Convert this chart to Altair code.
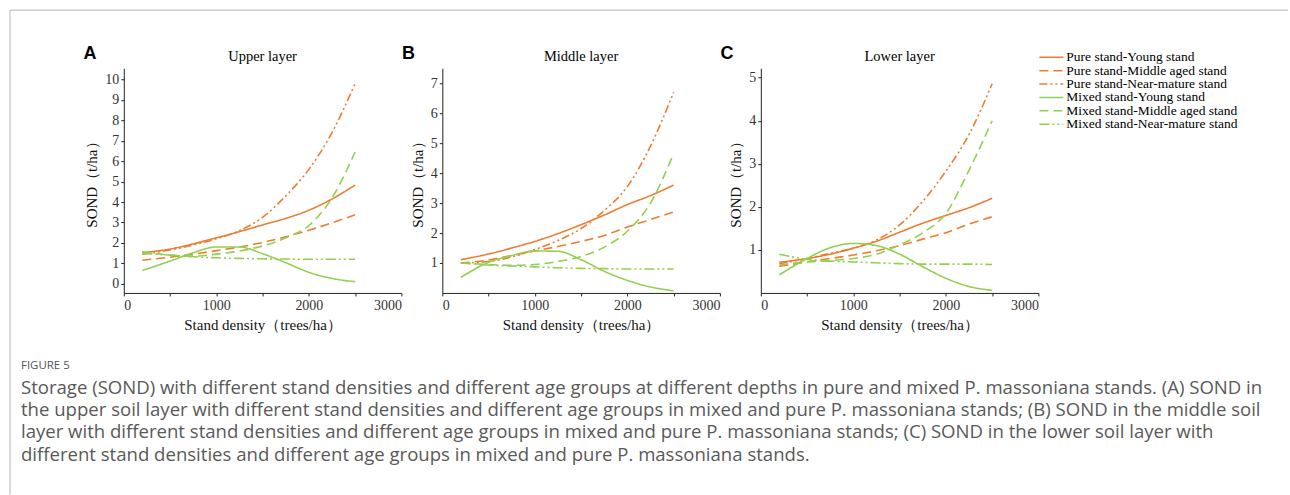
import altair as alt
import pandas as pd

# ---------------- data ----------------
density = [200, 500, 750, 1000, 1250, 1500, 1750, 2000, 2250, 2500]
series = [
    "Pure stand-Young stand",
    "Pure stand-Middle aged stand",
    "Pure stand-Near-mature stand",
    "Mixed stand-Young stand",
    "Mixed stand-Middle aged stand",
    "Mixed stand-Near-mature stand",
]

upper_pure_young = [1.52, 1.7, 1.95, 2.25, 2.55, 2.88, 3.2, 3.6, 4.15, 4.83]
upper_pure_middle = [1.15, 1.3, 1.45, 1.62, 1.8, 2.02, 2.3, 2.62, 2.98, 3.38]
upper_pure_near = [1.45, 1.65, 1.9, 2.2, 2.6, 3.25, 4.3, 5.6, 7.4, 9.8]
upper_mixed_young = [0.65, 1.11, 1.52, 1.8, 1.8, 1.47, 1.03, 0.56, 0.26, 0.1]
upper_mixed_middle = [1.57, 1.4, 1.35, 1.45, 1.6, 1.85, 2.25, 2.85, 4.2, 6.45]
upper_mixed_near = [1.5, 1.4, 1.32, 1.27, 1.24, 1.22, 1.21, 1.2, 1.2, 1.2]

middle_pure_young = [1.11, 1.3, 1.5, 1.72, 1.98, 2.28, 2.6, 2.95, 3.25, 3.6]
middle_pure_middle = [1.0, 1.1, 1.25, 1.4, 1.55, 1.72, 1.92, 2.2, 2.45, 2.7]
middle_pure_near = [1.0, 1.05, 1.2, 1.45, 1.75, 2.15, 2.75, 3.55, 4.9, 6.7]
middle_mixed_young = [0.52, 1.02, 1.25, 1.4, 1.39, 1.11, 0.72, 0.42, 0.2, 0.07]
middle_mixed_middle = [1.0, 0.95, 0.92, 0.95, 1.05, 1.22, 1.53, 2.06, 3.0, 4.65]
middle_mixed_near = [1.0, 0.93, 0.9, 0.87, 0.84, 0.82, 0.81, 0.8, 0.8, 0.8]

lower_pure_young = [0.71, 0.8, 0.9, 1.04, 1.2, 1.41, 1.62, 1.8, 1.98, 2.2]
lower_pure_middle = [0.62, 0.72, 0.8, 0.88, 0.98, 1.1, 1.25, 1.4, 1.6, 1.77]
lower_pure_near = [0.68, 0.8, 0.92, 1.04, 1.23, 1.58, 2.13, 2.83, 3.68, 4.86]
lower_mixed_young = [0.42, 0.8, 1.05, 1.15, 1.1, 0.9, 0.61, 0.34, 0.15, 0.06]
lower_mixed_middle = [0.65, 0.72, 0.75, 0.8, 0.9, 1.12, 1.4, 1.85, 2.85, 4.0]
lower_mixed_near = [0.9, 0.78, 0.74, 0.72, 0.7, 0.68, 0.67, 0.67, 0.67, 0.66]

letters = ["A", "B", "C"]
layer_titles = ["Upper layer", "Middle layer", "Lower layer"]
x_ticks = [0, 500, 1000, 1500, 2000, 2500, 3000]
y_ticks_upper = [0, 1, 2, 3, 4, 5, 6, 7, 8, 9, 10]
y_ticks_middle = [1, 2, 3, 4, 5, 6, 7]
y_ticks_lower = [1, 2, 3, 4, 5]

caption_lines = [
    "FIGURE 5",
    "Storage (SOND) with different stand densities and different age groups at different depths in pure and mixed P. massoniana stands. (A) SOND in",
    "the upper soil layer with different stand densities and different age groups in mixed and pure P. massoniana stands; (B) SOND in the middle soil",
    "layer with different stand densities and different age groups in mixed and pure P. massoniana stands; (C) SOND in the lower soil layer with",
    "different stand densities and different age groups in mixed and pure P. massoniana stands.",
]

# ---------------- styles ----------------
ORANGE = "#ED7D31"
GREEN = "#92D050"
colors = [ORANGE, ORANGE, ORANGE, GREEN, GREEN, GREEN]
dashes = [[1, 0], [9, 5], [8, 3, 2, 3, 2, 3], [1, 0], [9, 5], [10, 3, 2, 3, 2, 3]]
color_scale = alt.Scale(domain=series, range=colors)
dash_scale = alt.Scale(domain=series, range=dashes)

SERIF = "Liberation Serif"
W = 278
H = 225


def make_df(values):
    rows = []
    for s, vals in zip(series, values):
        for x, v in zip(density, vals):
            rows.append({"density": x, "SOND": v, "series": s})
    return pd.DataFrame(rows)


def panel(values, letter, title, ydomain, yticks):
    df = make_df(values)
    lines = alt.Chart(df).mark_line(strokeWidth=1.6, interpolate="monotone").encode(
        x=alt.X(
            "density:Q",
            scale=alt.Scale(domain=[0, 3000], nice=False),
            axis=alt.Axis(
                values=x_ticks,
                format="d",
                labelExpr="datum.value % 1000 == 0 ? datum.label : ''",
                title="Stand density（trees/ha）",
                titlePadding=5,
                labelPadding=3,
            ),
        ),
        y=alt.Y(
            "SOND:Q",
            scale=alt.Scale(domain=ydomain, nice=False, zero=False),
            axis=alt.Axis(
                values=yticks,
                format="d",
                title="SOND（t/ha）",
                titlePadding=5,
                labelPadding=2,
            ),
        ),
        color=alt.Color("series:N", scale=color_scale, legend=None),
        strokeDash=alt.StrokeDash("series:N", scale=dash_scale, legend=None),
    )
    head_df = pd.DataFrame({"letter": [letter], "title": [title]})
    letter_txt = alt.Chart(head_df).mark_text(
        font="Liberation Sans", fontWeight="bold", fontSize=18, color="black",
        align="center", baseline="middle",
    ).encode(text="letter:N", x=alt.value(-34), y=alt.value(-14))
    title_txt = alt.Chart(head_df).mark_text(
        font=SERIF, fontSize=14.5, color="black", align="center", baseline="alphabetic",
    ).encode(text="title:N", x=alt.value(W / 2), y=alt.value(-7))
    return alt.layer(lines, letter_txt, title_txt).properties(width=W, height=H)


pA = panel(
    [upper_pure_young, upper_pure_middle, upper_pure_near,
     upper_mixed_young, upper_mixed_middle, upper_mixed_near],
    letters[0], layer_titles[0], [-0.45, 10.55], y_ticks_upper,
)
pB = panel(
    [middle_pure_young, middle_pure_middle, middle_pure_near,
     middle_mixed_young, middle_mixed_middle, middle_mixed_near],
    letters[1], layer_titles[1], [0, 7.5], y_ticks_middle,
)
pC = panel(
    [lower_pure_young, lower_pure_middle, lower_pure_near,
     lower_mixed_young, lower_mixed_middle, lower_mixed_near],
    letters[2], layer_titles[2], [0, 5.22], y_ticks_lower,
)

# ---------------- legend ----------------
leg_df = pd.DataFrame({"series": series})
leg_y = alt.Y("series:N", sort=series, axis=None,
              scale=alt.Scale(type="point", range=[-11, 56], padding=0))
leg_rules = alt.Chart(leg_df).mark_rule(strokeWidth=1.6).encode(
    x=alt.value(-40), x2=alt.value(-16), y=leg_y,
    color=alt.Color("series:N", scale=color_scale, legend=None),
    strokeDash=alt.StrokeDash("series:N", scale=dash_scale, legend=None),
)
leg_text = alt.Chart(leg_df).mark_text(
    align="left", baseline="middle", font=SERIF, fontSize=13.5, color="black"
).encode(x=alt.value(-13), y=leg_y, text="series:N")
legend = alt.layer(leg_rules, leg_text).properties(width=150, height=H)

top = alt.hconcat(pA, pB, pC, legend, spacing=41, bounds="flush").resolve_scale(
    x="independent", y="independent"
)

# ---------------- caption + frame ----------------
cap_df = pd.DataFrame({"idx": list(range(len(caption_lines))), "text": caption_lines})
cap_y = alt.Y("idx:O", axis=None,
              scale=alt.Scale(type="point", domain=list(range(len(caption_lines))),
                              range=[11, 100], padding=0))
cap_head = alt.Chart(cap_df).transform_filter("datum.idx == 0").mark_text(
    align="left", baseline="middle", font="Open Sans", fontSize=11.5, color="#555555"
).encode(x=alt.value(-103), y=cap_y, text="text:N")
cap_body = alt.Chart(cap_df).transform_filter("datum.idx > 0").mark_text(
    align="left", baseline="middle", font="Open Sans", fontSize=18.6, color="#595959"
).encode(x=alt.value(-103), y=cap_y, text="text:N")

frame_df = pd.DataFrame({"k": [0]})
frame_v = alt.Chart(frame_df).mark_rule(color="#cccccc", strokeWidth=1.5).encode(
    x=alt.value(-114), y=alt.value(-345), y2=alt.value(140)
)
frame_h = alt.Chart(frame_df).mark_rule(color="#cccccc", strokeWidth=1.5).encode(
    x=alt.value(-114), x2=alt.value(1166), y=alt.value(-345)
)
caption = alt.layer(frame_v, frame_h, cap_head, cap_body).properties(width=W, height=111)

# the nested hconcat counts as zero height in a flush vconcat, so the spacing
# spans the panel height plus the gap to the caption
chart = alt.vconcat(top, caption, spacing=H + 62, bounds="flush").resolve_scale(
    x="independent", y="independent"
).properties(
    padding={"left": 8, "top": 8, "right": 0, "bottom": 0}
).configure_view(stroke="transparent").configure_axis(
    grid=False,
    domainColor="#222222",
    tickColor="#222222",
    tickSize=3,
    labelFont=SERIF,
    labelFontSize=14,
    labelColor="#333333",
    labelOverlap=False,
    titleFont=SERIF,
    titleFontSize=15,
    titleFontWeight="normal",
    titleColor="#111111",
)

chart.save("out.html", embed_options={"renderer": "svg", "actions": False})
